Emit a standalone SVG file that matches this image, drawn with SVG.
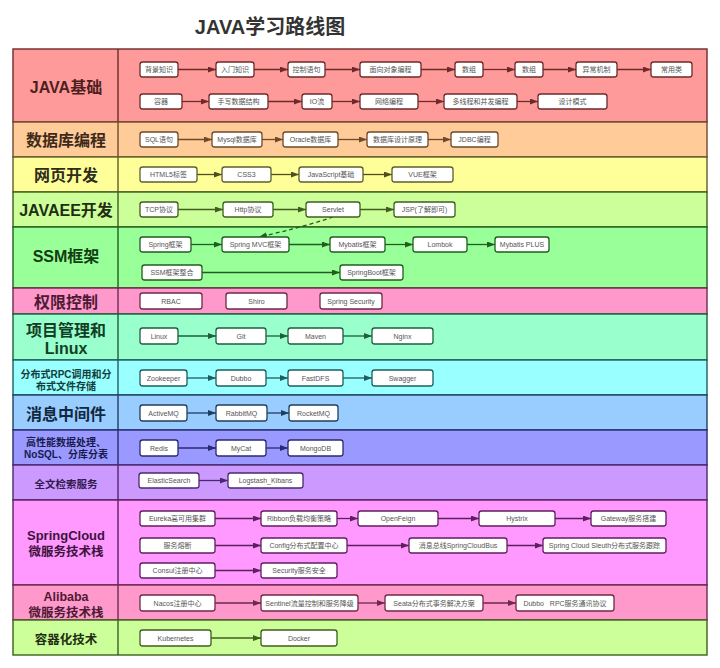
<svg xmlns="http://www.w3.org/2000/svg" width="720" height="668" viewBox="0 0 720 668">
<style>
text{font-family:"Liberation Sans","Noto Sans CJK SC",sans-serif}
.title{font-size:20px;font-weight:bold;fill:#333;text-anchor:middle}
.lb{font-weight:bold;text-anchor:middle}
.n rect{fill:#fff;stroke-width:1.3}
.n text{font-size:7px;fill:#555;text-anchor:middle}
.row{stroke-width:1.4}
.k line,.k path{stroke-width:1.3;fill:none}
.c1 rect{stroke:#6e2a2a}.c2 rect{stroke:#6e4a2a}.c3 rect{stroke:#5e5e2a}.c4 rect{stroke:#3f5e1f}.c5 rect{stroke:#1f5e1f}.c6 rect{stroke:#6e2a4a}.c7 rect{stroke:#1f5e3f}.c8 rect{stroke:#1f5e5e}.c9 rect{stroke:#1f3f5e}.c10 rect{stroke:#2a2a6e}.c11 rect{stroke:#4a2a6e}.c12 rect{stroke:#5e1f5e}.c13 rect{stroke:#6e2a4a}.c14 rect{stroke:#3f5e1f}
</style>
<defs>
<marker id="m1" markerWidth="8" markerHeight="6" refX="8" refY="3" orient="auto" markerUnits="userSpaceOnUse"><path d="M0,0 L8,3 L0,6 z" fill="#6e2a2a"/></marker>
<marker id="m2" markerWidth="8" markerHeight="6" refX="8" refY="3" orient="auto" markerUnits="userSpaceOnUse"><path d="M0,0 L8,3 L0,6 z" fill="#6e4a2a"/></marker>
<marker id="m3" markerWidth="8" markerHeight="6" refX="8" refY="3" orient="auto" markerUnits="userSpaceOnUse"><path d="M0,0 L8,3 L0,6 z" fill="#4e4e1f"/></marker>
<marker id="m4" markerWidth="8" markerHeight="6" refX="8" refY="3" orient="auto" markerUnits="userSpaceOnUse"><path d="M0,0 L8,3 L0,6 z" fill="#3f5e1f"/></marker>
<marker id="m5" markerWidth="8" markerHeight="6" refX="8" refY="3" orient="auto" markerUnits="userSpaceOnUse"><path d="M0,0 L8,3 L0,6 z" fill="#1f5e1f"/></marker>
<marker id="m7" markerWidth="8" markerHeight="6" refX="8" refY="3" orient="auto" markerUnits="userSpaceOnUse"><path d="M0,0 L8,3 L0,6 z" fill="#1f5e3f"/></marker>
<marker id="m8" markerWidth="8" markerHeight="6" refX="8" refY="3" orient="auto" markerUnits="userSpaceOnUse"><path d="M0,0 L8,3 L0,6 z" fill="#1f5e5e"/></marker>
<marker id="m9" markerWidth="8" markerHeight="6" refX="8" refY="3" orient="auto" markerUnits="userSpaceOnUse"><path d="M0,0 L8,3 L0,6 z" fill="#1f3f5e"/></marker>
<marker id="m10" markerWidth="8" markerHeight="6" refX="8" refY="3" orient="auto" markerUnits="userSpaceOnUse"><path d="M0,0 L8,3 L0,6 z" fill="#2a2a6e"/></marker>
<marker id="m11" markerWidth="8" markerHeight="6" refX="8" refY="3" orient="auto" markerUnits="userSpaceOnUse"><path d="M0,0 L8,3 L0,6 z" fill="#4a2a6e"/></marker>
<marker id="m12" markerWidth="8" markerHeight="6" refX="8" refY="3" orient="auto" markerUnits="userSpaceOnUse"><path d="M0,0 L8,3 L0,6 z" fill="#5e1f5e"/></marker>
<marker id="m13" markerWidth="8" markerHeight="6" refX="8" refY="3" orient="auto" markerUnits="userSpaceOnUse"><path d="M0,0 L8,3 L0,6 z" fill="#6e2a4a"/></marker>
<marker id="m14" markerWidth="8" markerHeight="6" refX="8" refY="3" orient="auto" markerUnits="userSpaceOnUse"><path d="M0,0 L8,3 L0,6 z" fill="#3f5e1f"/></marker>
</defs>
<rect width="720" height="668" fill="#fff"/>
<text class="title" x="270" y="34">JAVA学习路线图</text>

<g id="rows">
<g id="row-java"><rect class="row" x="13" y="49" width="694" height="73" fill="#ff9a9a" stroke="#6e2a2a"/><line x1="118" y1="49" x2="118" y2="122" stroke="#6e2a2a" stroke-width="1.4"/><text class="lb" x="66" y="93" font-size="16" fill="#4e1f1f">JAVA基础</text></g>
<g id="row-db"><rect class="row" x="13" y="122" width="694" height="35" fill="#ffcc99" stroke="#6e4a2a"/><line x1="118" y1="122" x2="118" y2="157" stroke="#6e4a2a" stroke-width="1.4"/><text class="lb" x="66" y="146" font-size="16" fill="#3e2a1a">数据库编程</text></g>
<g id="row-web"><rect class="row" x="13" y="157" width="694" height="35" fill="#ffff99" stroke="#5e5e2a"/><line x1="118" y1="157" x2="118" y2="192" stroke="#5e5e2a" stroke-width="1.4"/><text class="lb" x="66" y="181" font-size="16" fill="#2e2e1a">网页开发</text></g>
<g id="row-javaee"><rect class="row" x="13" y="192" width="694" height="35" fill="#ccff99" stroke="#3f5e1f"/><line x1="118" y1="192" x2="118" y2="227" stroke="#3f5e1f" stroke-width="1.4"/><text class="lb" x="66" y="216" font-size="16" fill="#1f2e12">JAVAEE开发</text></g>
<g id="row-ssm"><rect class="row" x="13" y="227" width="694" height="61" fill="#99ff99" stroke="#1f5e1f"/><line x1="118" y1="227" x2="118" y2="288" stroke="#1f5e1f" stroke-width="1.4"/><text class="lb" x="66" y="262" font-size="16" fill="#123e12">SSM框架</text></g>
<g id="row-auth"><rect class="row" x="13" y="288" width="694" height="26" fill="#ff99cc" stroke="#6e2a4a"/><line x1="118" y1="288" x2="118" y2="314" stroke="#6e2a4a" stroke-width="1.4"/><text class="lb" x="66" y="308" font-size="16" fill="#4e1a33">权限控制</text></g>
<g id="row-proj"><rect class="row" x="13" y="314" width="694" height="46" fill="#99ffcc" stroke="#1f5e3f"/><line x1="118" y1="314" x2="118" y2="360" stroke="#1f5e3f" stroke-width="1.4"/><text class="lb" x="66" y="336" font-size="16" fill="#123e28">项目管理和</text><text class="lb" x="66" y="354" font-size="16" fill="#123e28">Linux</text></g>
<g id="row-rpc"><rect class="row" x="13" y="360" width="694" height="35" fill="#99ffff" stroke="#1f5e5e"/><line x1="118" y1="360" x2="118" y2="395" stroke="#1f5e5e" stroke-width="1.4"/><text class="lb" x="66" y="378" font-size="10" fill="#123e3e">分布式RPC调用和分</text><text class="lb" x="66" y="390" font-size="10" fill="#123e3e">布式文件存储</text></g>
<g id="row-mq"><rect class="row" x="13" y="395" width="694" height="35" fill="#99ccff" stroke="#1f3f5e"/><line x1="118" y1="395" x2="118" y2="430" stroke="#1f3f5e" stroke-width="1.4"/><text class="lb" x="66" y="420" font-size="16" fill="#12283e">消息中间件</text></g>
<g id="row-nosql"><rect class="row" x="13" y="430" width="694" height="35" fill="#9999ff" stroke="#2a2a6e"/><line x1="118" y1="430" x2="118" y2="465" stroke="#2a2a6e" stroke-width="1.4"/><text class="lb" x="66" y="446" font-size="10" fill="#1a1a4e">高性能数据处理、</text><text class="lb" x="66" y="458" font-size="10" fill="#1a1a4e">NoSQL、分库分表</text></g>
<g id="row-search"><rect class="row" x="13" y="465" width="694" height="35" fill="#cc99ff" stroke="#4a2a6e"/><line x1="118" y1="465" x2="118" y2="500" stroke="#4a2a6e" stroke-width="1.4"/><text class="lb" x="66" y="488" font-size="10.5" fill="#331a4e">全文检索服务</text></g>
<g id="row-sc"><rect class="row" x="13" y="500" width="694" height="85" fill="#ff99ff" stroke="#5e1f5e"/><line x1="118" y1="500" x2="118" y2="585" stroke="#5e1f5e" stroke-width="1.4"/><text class="lb" x="66" y="540" font-size="13" fill="#3e123e">SpringCloud</text><text class="lb" x="66" y="556" font-size="12.5" fill="#3e123e">微服务技术栈</text></g>
<g id="row-ali"><rect class="row" x="13" y="585" width="694" height="35" fill="#ff99cc" stroke="#6e2a4a"/><line x1="118" y1="585" x2="118" y2="620" stroke="#6e2a4a" stroke-width="1.4"/><text class="lb" x="66" y="601" font-size="12.5" fill="#4e1a33">Alibaba</text><text class="lb" x="66" y="617" font-size="12.5" fill="#4e1a33">微服务技术栈</text></g>
<g id="row-container"><rect class="row" x="13" y="620" width="694" height="35" fill="#ccff99" stroke="#3f5e1f"/><line x1="118" y1="620" x2="118" y2="655" stroke="#3f5e1f" stroke-width="1.4"/><text class="lb" x="66" y="644" font-size="12.5" fill="#1f2e12">容器化技术</text></g>
</g>

<g id="connectors" class="k">
<g stroke="#6e2a2a" marker-end="url(#m1)">
<line x1="178" y1="69.5" x2="216" y2="69.5"/><line x1="254" y1="69.5" x2="288" y2="69.5"/><line x1="325" y1="69.5" x2="360" y2="69.5"/><line x1="421" y1="69.5" x2="455" y2="69.5"/><line x1="483" y1="69.5" x2="515" y2="69.5"/><line x1="543" y1="69.5" x2="576" y2="69.5"/><line x1="617" y1="69.5" x2="651" y2="69.5"/>
<line x1="182" y1="101.5" x2="209" y2="101.5"/><line x1="268" y1="101.5" x2="302" y2="101.5"/><line x1="332" y1="101.5" x2="360" y2="101.5"/><line x1="418" y1="101.5" x2="444" y2="101.5"/><line x1="517" y1="101.5" x2="538" y2="101.5"/>
</g>
<g stroke="#6e4a2a" marker-end="url(#m2)">
<line x1="178" y1="139.5" x2="212" y2="139.5"/><line x1="262" y1="139.5" x2="283" y2="139.5"/><line x1="338" y1="139.5" x2="367" y2="139.5"/><line x1="428" y1="139.5" x2="451" y2="139.5"/>
</g>
<g stroke="#4e4e1f" marker-end="url(#m3)">
<line x1="197" y1="174.5" x2="222" y2="174.5"/><line x1="271" y1="174.5" x2="299" y2="174.5"/><line x1="363" y1="174.5" x2="392" y2="174.5"/>
</g>
<g stroke="#3f5e1f" marker-end="url(#m4)">
<line x1="178" y1="209.5" x2="223" y2="209.5"/><line x1="273" y1="209.5" x2="306" y2="209.5"/><line x1="360" y1="209.5" x2="394" y2="209.5"/>
</g>
<g stroke="#1f5e1f" marker-end="url(#m5)">
<line x1="191" y1="244.5" x2="222" y2="244.5"/><line x1="289" y1="244.5" x2="330" y2="244.5"/><line x1="385" y1="244.5" x2="413" y2="244.5"/><line x1="467" y1="244.5" x2="495" y2="244.5"/>
<line x1="202" y1="272.5" x2="340" y2="272.5"/>
<path d="M333,217 Q300,228 259,237" stroke-dasharray="4 3"/>
</g>
<g stroke="#1f5e3f" marker-end="url(#m7)">
<line x1="178" y1="336" x2="216" y2="336"/><line x1="266" y1="336" x2="288" y2="336"/><line x1="343" y1="336" x2="372" y2="336"/>
</g>
<g stroke="#1f5e5e" marker-end="url(#m8)">
<line x1="187" y1="378" x2="216" y2="378"/><line x1="266" y1="378" x2="288" y2="378"/><line x1="343" y1="378" x2="372" y2="378"/>
</g>
<g stroke="#1f3f5e" marker-end="url(#m9)">
<line x1="187" y1="413" x2="216" y2="413"/><line x1="267" y1="413" x2="289" y2="413"/>
</g>
<g stroke="#2a2a6e" marker-end="url(#m10)">
<line x1="178" y1="448" x2="216" y2="448"/><line x1="266" y1="448" x2="288" y2="448"/>
</g>
<g stroke="#4a2a6e" marker-end="url(#m11)">
<line x1="199" y1="480.5" x2="228" y2="480.5"/>
</g>
<g stroke="#5e1f5e" marker-end="url(#m12)">
<line x1="215" y1="518.5" x2="261" y2="518.5"/><line x1="337" y1="518.5" x2="358" y2="518.5"/><line x1="438" y1="518.5" x2="479" y2="518.5"/><line x1="555" y1="518.5" x2="591" y2="518.5"/>
<line x1="215" y1="545.5" x2="261" y2="545.5"/><line x1="347" y1="545.5" x2="409" y2="545.5"/><line x1="507" y1="545.5" x2="543" y2="545.5"/>
<line x1="215" y1="570.5" x2="261" y2="570.5"/>
</g>
<g stroke="#6e2a4a" marker-end="url(#m13)">
<line x1="215" y1="603" x2="261" y2="603"/><line x1="358" y1="603" x2="385" y2="603"/><line x1="483" y1="603" x2="516" y2="603"/>
</g>
<g stroke="#3f5e1f" marker-end="url(#m14)">
<line x1="211" y1="638" x2="261" y2="638"/>
</g>
</g>

<g id="nodes">
<g class="n c1">
<g id="n-bjzs"><rect x="140" y="62" width="38" height="15" rx="2.5"/><text x="159" y="72">背景知识</text></g>
<g id="n-rmzs"><rect x="216" y="62" width="38" height="15" rx="2.5"/><text x="235" y="72">入门知识</text></g>
<g id="n-kzyj"><rect x="288" y="62" width="37" height="15" rx="2.5"/><text x="306.5" y="72">控制语句</text></g>
<g id="n-mxdx"><rect x="360" y="62" width="61" height="15" rx="2.5"/><text x="390.5" y="72">面向对象编程</text></g>
<g id="n-sz1"><rect x="455" y="62" width="28" height="15" rx="2.5"/><text x="469" y="72">数组</text></g>
<g id="n-sz2"><rect x="515" y="62" width="28" height="15" rx="2.5"/><text x="529" y="72">数组</text></g>
<g id="n-ycjz"><rect x="576" y="62" width="41" height="15" rx="2.5"/><text x="596.5" y="72">异常机制</text></g>
<g id="n-cyl"><rect x="651" y="62" width="41" height="15" rx="2.5"/><text x="671.5" y="72">常用类</text></g>
<g id="n-rq"><rect x="140" y="94" width="42" height="15" rx="2.5"/><text x="161" y="104">容器</text></g>
<g id="n-sxsj"><rect x="209" y="94" width="59" height="15" rx="2.5"/><text x="238.5" y="104">手写数据结构</text></g>
<g id="n-io"><rect x="302" y="94" width="30" height="15" rx="2.5"/><text x="317" y="104">IO流</text></g>
<g id="n-wlbc"><rect x="360" y="94" width="58" height="15" rx="2.5"/><text x="389" y="104">网络编程</text></g>
<g id="n-dxc"><rect x="444" y="94" width="73" height="15" rx="2.5"/><text x="480.5" y="104">多线程和并发编程</text></g>
<g id="n-sjms"><rect x="538" y="94" width="69" height="15" rx="2.5"/><text x="572.5" y="104">设计模式</text></g>
</g>
<g class="n c2">
<g id="n-sql"><rect x="140" y="132" width="38" height="15" rx="2.5"/><text x="159" y="142">SQL语句</text></g>
<g id="n-mysql"><rect x="212" y="132" width="50" height="15" rx="2.5"/><text x="237" y="142">Mysql数据库</text></g>
<g id="n-oracle"><rect x="283" y="132" width="55" height="15" rx="2.5"/><text x="310.5" y="142">Oracle数据库</text></g>
<g id="n-dbdesign"><rect x="367" y="132" width="61" height="15" rx="2.5"/><text x="397.5" y="142">数据库设计原理</text></g>
<g id="n-jdbc"><rect x="451" y="132" width="47" height="15" rx="2.5"/><text x="474.5" y="142">JDBC编程</text></g>
</g>
<g class="n c3">
<g id="n-html5"><rect x="140" y="167" width="57" height="15" rx="2.5"/><text x="168.5" y="177">HTML5标签</text></g>
<g id="n-css3"><rect x="222" y="167" width="49" height="15" rx="2.5"/><text x="246.5" y="177">CSS3</text></g>
<g id="n-js"><rect x="299" y="167" width="64" height="15" rx="2.5"/><text x="331" y="177">JavaScript基础</text></g>
<g id="n-vue"><rect x="392" y="167" width="61" height="15" rx="2.5"/><text x="422.5" y="177">VUE框架</text></g>
</g>
<g class="n c4">
<g id="n-tcp"><rect x="140" y="202" width="38" height="15" rx="2.5"/><text x="159" y="212">TCP协议</text></g>
<g id="n-http"><rect x="223" y="202" width="50" height="15" rx="2.5"/><text x="248" y="212">Http协议</text></g>
<g id="n-servlet"><rect x="306" y="202" width="54" height="15" rx="2.5"/><text x="333" y="212">Servlet</text></g>
<g id="n-jsp"><rect x="394" y="202" width="61" height="15" rx="2.5"/><text x="424.5" y="212">JSP(了解即可)</text></g>
</g>
<g class="n c5">
<g id="n-spring"><rect x="140" y="237" width="51" height="15" rx="2.5"/><text x="165.5" y="247">Spring框架</text></g>
<g id="n-springmvc"><rect x="222" y="237" width="67" height="15" rx="2.5"/><text x="255.5" y="247">Spring MVC框架</text></g>
<g id="n-mybatis"><rect x="330" y="237" width="55" height="15" rx="2.5"/><text x="357.5" y="247">Mybatis框架</text></g>
<g id="n-lombok"><rect x="413" y="237" width="54" height="15" rx="2.5"/><text x="440" y="247">Lombok</text></g>
<g id="n-mbplus"><rect x="495" y="237" width="54" height="15" rx="2.5"/><text x="522" y="247">Mybatis PLUS</text></g>
<g id="n-ssmzh"><rect x="142" y="265" width="60" height="15" rx="2.5"/><text x="172" y="275">SSM框架整合</text></g>
<g id="n-springboot"><rect x="340" y="265" width="63" height="15" rx="2.5"/><text x="371.5" y="275">SpringBoot框架</text></g>
</g>
<g class="n c6">
<g id="n-rbac"><rect x="140" y="293" width="62" height="16" rx="2.5"/><text x="171" y="303.5">RBAC</text></g>
<g id="n-shiro"><rect x="226" y="293" width="61" height="16" rx="2.5"/><text x="256.5" y="303.5">Shiro</text></g>
<g id="n-springsec"><rect x="320" y="293" width="62" height="16" rx="2.5"/><text x="351" y="303.5">Spring Security</text></g>
</g>
<g class="n c7">
<g id="n-linux"><rect x="140" y="328" width="38" height="16" rx="2.5"/><text x="159" y="338.5">Linux</text></g>
<g id="n-git"><rect x="216" y="328" width="50" height="16" rx="2.5"/><text x="241" y="338.5">Git</text></g>
<g id="n-maven"><rect x="288" y="328" width="55" height="16" rx="2.5"/><text x="315.5" y="338.5">Maven</text></g>
<g id="n-nginx"><rect x="372" y="328" width="61" height="16" rx="2.5"/><text x="402.5" y="338.5">Nginx</text></g>
</g>
<g class="n c8">
<g id="n-zk"><rect x="140" y="370" width="47" height="16" rx="2.5"/><text x="163.5" y="380.5">Zookeeper</text></g>
<g id="n-dubbo"><rect x="216" y="370" width="50" height="16" rx="2.5"/><text x="241" y="380.5">Dubbo</text></g>
<g id="n-fastdfs"><rect x="288" y="370" width="55" height="16" rx="2.5"/><text x="315.5" y="380.5">FastDFS</text></g>
<g id="n-swagger"><rect x="372" y="370" width="61" height="16" rx="2.5"/><text x="402.5" y="380.5">Swagger</text></g>
</g>
<g class="n c9">
<g id="n-activemq"><rect x="140" y="405" width="47" height="16" rx="2.5"/><text x="163.5" y="415.5">ActiveMQ</text></g>
<g id="n-rabbitmq"><rect x="216" y="405" width="51" height="16" rx="2.5"/><text x="241.5" y="415.5">RabbitMQ</text></g>
<g id="n-rocketmq"><rect x="289" y="405" width="49" height="16" rx="2.5"/><text x="313.5" y="415.5">RocketMQ</text></g>
</g>
<g class="n c10">
<g id="n-redis"><rect x="140" y="440" width="38" height="16" rx="2.5"/><text x="159" y="450.5">Redis</text></g>
<g id="n-mycat"><rect x="216" y="440" width="50" height="16" rx="2.5"/><text x="241" y="450.5">MyCat</text></g>
<g id="n-mongodb"><rect x="288" y="440" width="55" height="16" rx="2.5"/><text x="315.5" y="450.5">MongoDB</text></g>
</g>
<g class="n c11">
<g id="n-es"><rect x="139" y="473" width="60" height="15" rx="2.5"/><text x="169" y="483">ElasticSearch</text></g>
<g id="n-logstash"><rect x="228" y="473" width="75" height="15" rx="2.5"/><text x="265.5" y="483">Logstash_Kibans</text></g>
</g>
<g class="n c12">
<g id="n-eureka"><rect x="140" y="511" width="75" height="15" rx="2.5"/><text x="177.5" y="521">Eureka高可用集群</text></g>
<g id="n-ribbon"><rect x="261" y="511" width="76" height="15" rx="2.5"/><text x="299" y="521">Ribbon负载均衡策略</text></g>
<g id="n-openfeign"><rect x="358" y="511" width="80" height="15" rx="2.5"/><text x="398" y="521">OpenFeign</text></g>
<g id="n-hystrix"><rect x="479" y="511" width="76" height="15" rx="2.5"/><text x="517" y="521">Hystrix</text></g>
<g id="n-gateway"><rect x="591" y="511" width="75" height="15" rx="2.5"/><text x="628.5" y="521">Gateway服务搭建</text></g>
<g id="n-rd"><rect x="140" y="538" width="75" height="15" rx="2.5"/><text x="177.5" y="548">服务熔断</text></g>
<g id="n-config"><rect x="261" y="538" width="86" height="15" rx="2.5"/><text x="304" y="548">Config分布式配置中心</text></g>
<g id="n-bus"><rect x="409" y="538" width="98" height="15" rx="2.5"/><text x="458" y="548">消息总线SpringCloudBus</text></g>
<g id="n-sleuth"><rect x="543" y="538" width="123" height="15" rx="2.5"/><text x="604.5" y="548">Spring Cloud Sleuth分布式服务跟踪</text></g>
<g id="n-consul"><rect x="140" y="563" width="75" height="15" rx="2.5"/><text x="177.5" y="573">Consul注册中心</text></g>
<g id="n-security"><rect x="261" y="563" width="76" height="15" rx="2.5"/><text x="299" y="573">Security服务安全</text></g>
</g>
<g class="n c13">
<g id="n-nacos"><rect x="140" y="595" width="75" height="16" rx="2.5"/><text x="177.5" y="605.5">Nacos注册中心</text></g>
<g id="n-sentinel"><rect x="261" y="595" width="97" height="16" rx="2.5"/><text x="309.5" y="605.5">Sentinel流量控制和服务降级</text></g>
<g id="n-seata"><rect x="385" y="595" width="98" height="16" rx="2.5"/><text x="434" y="605.5">Seata分布式事务解决方案</text></g>
<g id="n-dubborpc"><rect x="516" y="595" width="98" height="16" rx="2.5"/><text x="565" y="605.5" xml:space="preserve">Dubbo   RPC服务通讯协议</text></g>
</g>
<g class="n c14">
<g id="n-k8s"><rect x="140" y="630" width="71" height="16" rx="2.5"/><text x="175.5" y="640.5">Kubernetes</text></g>
<g id="n-docker"><rect x="261" y="630" width="76" height="16" rx="2.5"/><text x="299" y="640.5">Docker</text></g>
</g>
</g>
</svg>
